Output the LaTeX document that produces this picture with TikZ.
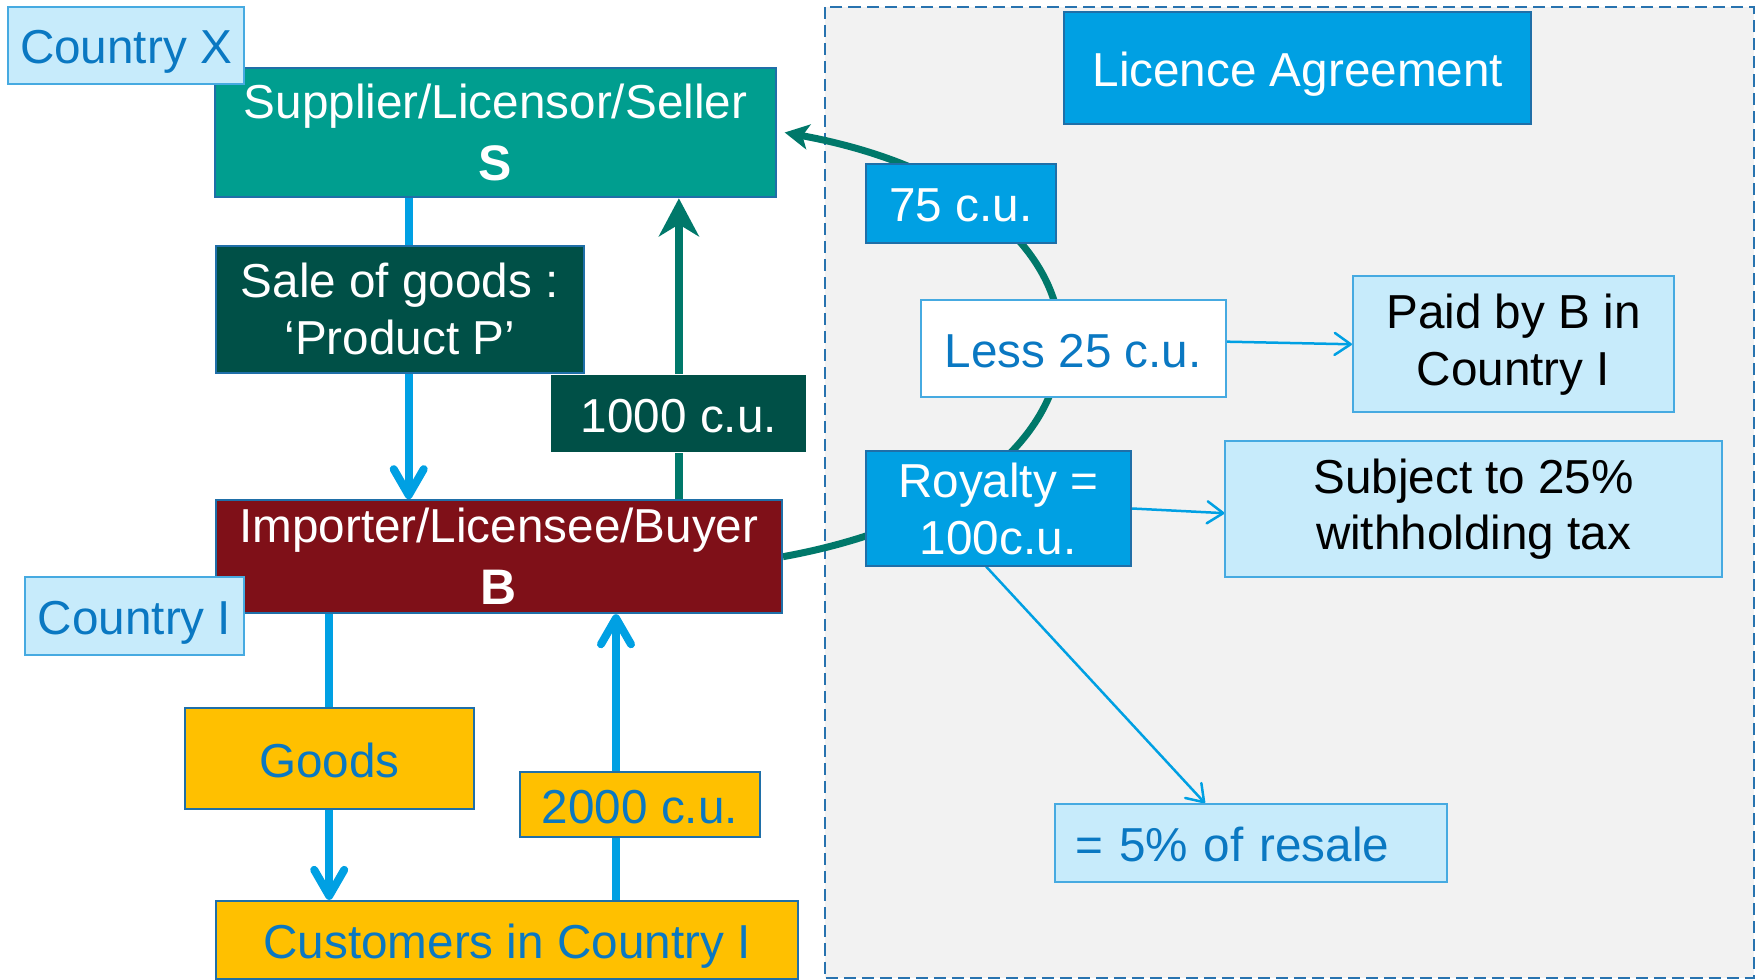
\documentclass[tikz,border=0pt]{standalone}
\usepackage{fontspec}
\setmainfont{Liberation Sans}
\usepackage{tikz}
\usetikzlibrary{arrows.meta, backgrounds}

\definecolor{paleblue}{RGB}{199,235,251}
\definecolor{skyblue}{RGB}{0,160,227}
\definecolor{edgeblue}{RGB}{31,111,168}
\definecolor{lightedge}{RGB}{70,170,225}
\definecolor{textblue}{RGB}{10,120,194}
\definecolor{tealfill}{RGB}{0,158,143}
\definecolor{tealline}{RGB}{0,120,106}
\definecolor{darkgreen}{RGB}{0,80,71}
\definecolor{wine}{RGB}{127,16,24}
\definecolor{gold}{RGB}{255,192,0}
\definecolor{panel}{RGB}{242,242,242}
\definecolor{dashblue}{RGB}{40,115,175}

\newcommand{\bodyfont}{\fontsize{13.55pt}{16.2pt}\selectfont}
\newcommand{\bigletter}[1]{{\bfseries\fontsize{14.2pt}{17pt}\selectfont #1}}

\begin{document}
\begin{tikzpicture}[x=0.01cm, y=-0.01cm,
	box/.style={draw=edgeblue, line width=0.02cm, inner sep=0pt, align=center, font=\bodyfont},
	oneline/.style={text height=0.37cm, text depth=0pt},
	palebox/.style={box, fill=paleblue, draw=lightedge, text=textblue},
	bluebox/.style={box, fill=skyblue, text=white},
	greenbox/.style={box, fill=darkgreen, text=white},
	goldbox/.style={box, oneline, fill=gold, text=textblue},
	flow/.style={line width=0.08cm, skyblue},
	money/.style={line width=0.08cm, tealline},
	note/.style={line width=0.025cm, skyblue, -{Straight Barb[length=0.16cm, width=0.22cm, round]}}]
	\useasboundingbox (0,0) rectangle (1760,980);

	% Country X side
	\node[box, fill=tealfill, text=white, minimum width=5.6cm, minimum height=1.296cm] (sup) at (495.5,132.5) {Supplier/Licensor/Seller\\[0.05cm]\bigletter{S}};
	\node[palebox, oneline, minimum width=2.36cm, minimum height=0.77cm] (ctyX) at (126,45.5) {Country X};
	\node[greenbox, minimum width=3.68cm, minimum height=1.27cm] (sale) at (399.8,309.2) {Sale of goods :\\‘Product P’};
	\node[greenbox, oneline, draw=none, minimum width=2.55cm, minimum height=0.77cm] (thou) at (678.9,413.7) {1000 c.u.};

	% Country I side
	\node[box, fill=wine, text=white, minimum width=5.66cm, minimum height=1.13cm] (imp) at (498.8,556.7) {Importer/Licensee/Buyer\\[0.05cm]\bigletter{B}};
	\node[palebox, oneline, minimum width=2.19cm, minimum height=0.78cm] (ctyI) at (134.6,616.2) {Country I};
	\node[goldbox, minimum width=2.89cm, minimum height=1.01cm] (goods) at (329.2,758.7) {Goods};
	\node[goldbox, minimum width=2.4cm, minimum height=0.64cm] (twok) at (640,804.5) {2000 c.u.};
	\node[goldbox, minimum width=5.81cm, minimum height=0.78cm] (cust) at (507,939.9) {Customers in Country I};

	% licence
	\node[bluebox, oneline, minimum width=4.67cm, minimum height=1.12cm] (lic) at (1297.8,68.3) {Licence Agreement};
	\node[bluebox, oneline, minimum width=1.9cm, minimum height=0.79cm] (sev) at (960.8,203.4) {75 c.u.};
	\node[box, oneline, fill=white, draw=lightedge, text=textblue, minimum width=3.05cm, minimum height=0.97cm] (less) at (1073.3,348.7) {Less 25 c.u.};
	\node[palebox, text=black, minimum width=3.21cm, minimum height=1.36cm] (paid) at (1513.5,344.3) {Paid by B in\\Country I};
	\node[bluebox, minimum width=2.65cm, minimum height=1.14cm] (roy) at (998.1,508.5) {Royalty =\\100c.u.};
	\node[palebox, text=black, minimum width=4.96cm, minimum height=1.36cm] (subj) at (1473.6,509.2) {Subject to 25\%\\withholding tax};
	\node[palebox, oneline, inner xsep=0.2cm, text width=3.51cm, align=left, minimum height=0.78cm] (five) at (1251,843.2) {= 5\% of resale};

	\coordinate (saleline) at (408.7,0);
	\coordinate (cashline) at (616,0);

	\begin{scope}[on background layer]
		\draw[dashblue, line width=0.02cm, dash pattern=on 0.12cm off 0.06cm, fill=panel] (824.5,7) rectangle (1753.5,978);
		% goods down, money up
		\draw[flow] (sup.south -| saleline) -- (sale.north -| saleline);
		\draw[flow, -{Straight Barb[length=0.26cm, width=0.3cm, round]}] (sale.south -| saleline) -- (imp.north -| saleline);
		\draw[money] (imp.north -| thou) -- (thou.south);
		\draw[money, -{Stealth[length=0.38cm, width=0.4cm, inset=0.12cm]}] (thou.north) -- (sup.south -| thou);
		\draw[flow] (imp.south -| goods) -- (goods.north);
		\draw[flow, -{Straight Barb[length=0.26cm, width=0.3cm, round]}] (goods.south) -- (cust.north -| goods);
		\draw[flow] (cust.north -| cashline) -- (twok.south -| cashline);
		\draw[flow, -{Straight Barb[length=0.26cm, width=0.3cm, round]}] (twok.north -| cashline) -- (imp.south -| cashline);
		% royalty paid back to S
		\draw[money, line width=0.07cm, -{Stealth[length=0.24cm, width=0.25cm, inset=0.06cm]}] (imp.east) .. controls (1150,490) and (1150,200) .. ([xshift=0.08cm]sup.east);
		\draw[note] ([yshift=0.07cm]less.east) -- (paid.west);
		\draw[note] (roy.east) -- ([yshift=-0.04cm]subj.west);
		\draw[note] ([xshift=-0.12cm]roy.south) -- ([xshift=-0.46cm]five.north);
	\end{scope}
\end{tikzpicture}
\end{document}
